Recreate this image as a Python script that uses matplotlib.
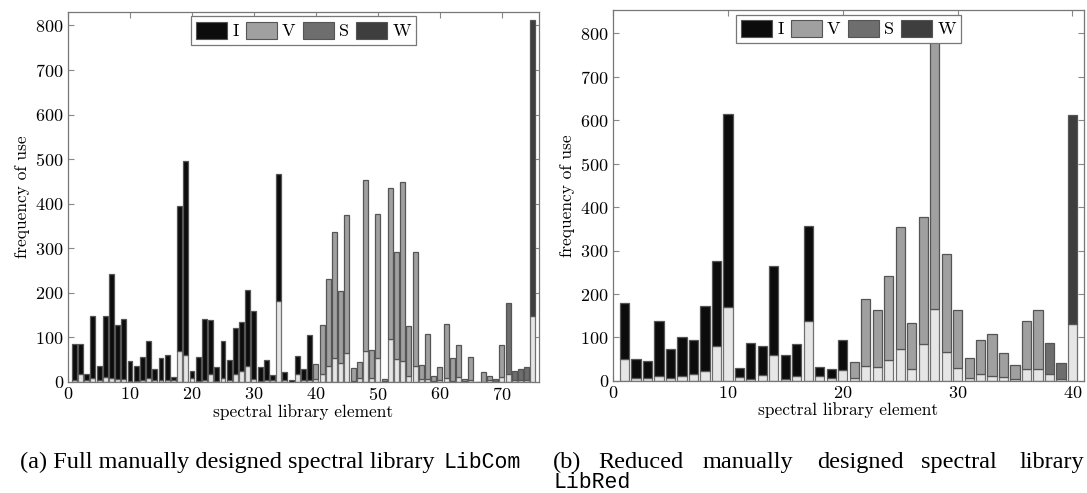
import numpy as np
import matplotlib
matplotlib.use('Agg')
import matplotlib.pyplot as plt
from matplotlib.patches import Patch

plt.rcParams['font.family'] = 'cmr10'
plt.rcParams['axes.formatter.use_mathtext'] = True

# LibCom (75 elementos): altura total, parte clara inferior, categoria
com_total = [85, 86, 17, 147, 36, 149, 242, 127, 142, 46, 35, 55, 93, 29, 53, 61, 12, 395, 495, 25,
             55, 142, 138, 33, 92, 50, 120, 134, 206, 159, 34, 50, 16, 466, 23, 4, 58, 28, 106, 41,
             127, 232, 337, 205, 375, 32, 45, 454, 72, 377, 7, 435, 292, 448, 125, 292, 37, 108, 13, 34,
             129, 54, 84, 7, 57, 1, 22, 13, 7, 84, 178, 25, 30, 33, 811]
com_low = [5, 17, 4, 9, 4, 11, 9, 7, 7, 2, 2, 4, 10, 4, 4, 4, 4, 70, 61, 9,
           3, 4, 19, 2, 9, 5, 17, 25, 36, 6, 2, 4, 4, 182, 5, 1, 19, 4, 5, 7,
           17, 36, 54, 43, 64, 2, 9, 70, 8, 54, 2, 97, 52, 47, 13, 36, 6, 7, 2, 5,
           9, 3, 12, 2, 5, 0, 1, 4, 1, 12, 19, 4, 5, 4, 148]
com_cat = ['I'] * 39 + ['V'] * 29 + ['S'] + ['V'] + ['S'] * 4 + ['W']

# LibRed (40 elementos)
red_total = [179, 51, 45, 138, 74, 100, 95, 173, 276, 615, 29, 87, 80, 265, 59, 85, 356, 33, 28, 94,
             43, 188, 163, 241, 353, 133, 377, 800, 292, 164, 52, 94, 107, 64, 36, 139, 163, 87, 42, 612]
red_low = [50, 6, 6, 12, 6, 11, 16, 22, 80, 169, 10, 4, 13, 60, 4, 12, 137, 12, 8, 25,
           8, 35, 32, 49, 74, 28, 84, 165, 66, 29, 8, 15, 12, 10, 5, 28, 28, 17, 5, 130]
red_cat = ['I'] * 20 + ['V'] * 17 + ['S'] * 2 + ['W']

colores = {'I': '#0c0c0c', 'V': '#a0a0a0', 'S': '#6e6e6e', 'W': '#3e3e3e'}
claro = '#e6e6e6'

fig = plt.figure(figsize=(10.87, 4.93), dpi=100)
ax1 = fig.add_axes([0.0626, 0.2252, 0.4333, 0.7505])
ax2 = fig.add_axes([0.564, 0.2272, 0.4332, 0.7525])


def dibujar(ax, total, low, cat, xmax, ymax, xticks):
    x = np.arange(1, len(total) + 1)
    total = np.array(total)
    low = np.array(low)
    ax.bar(x, low, width=0.8, color=claro, edgecolor='#707070', linewidth=0.9, zorder=2)
    ax.bar(x, total - low, bottom=low, width=0.8, color=[colores[c] for c in cat],
           edgecolor='#555555', linewidth=0.9, zorder=2)
    ax.set_xlim(0, xmax)
    ax.set_ylim(0, ymax)
    ax.set_xticks(xticks)
    ax.set_yticks(range(0, 900, 100))
    ax.tick_params(direction='in', top=True, right=True, labelsize=13, length=4,
                   color='#888888', pad=3)
    for s in ax.spines.values():
        s.set_color('#777777')
        s.set_linewidth(0.9)
    ax.set_xlabel('spectral library element', fontsize=12.5, labelpad=1)
    ax.set_ylabel('frequency of use', fontsize=12.5, labelpad=4)
    handles = [Patch(facecolor=colores[k], edgecolor='#555555', linewidth=0.8) for k in 'IVSW']
    leg = ax.legend(handles, ['I', 'V', 'S', 'W'], loc='upper center', ncol=4, fontsize=13,
                    handlelength=1.7, handleheight=1.05, handletextpad=0.3, columnspacing=0.4,
                    borderpad=0.3, borderaxespad=0.25, fancybox=False, framealpha=1,
                    edgecolor='#777777')
    leg.get_frame().set_linewidth(0.9)
    leg.set_zorder(5)


dibujar(ax1, com_total, com_low, com_cat, 76, 830, range(0, 80, 10))
dibujar(ax2, red_total, red_low, red_cat, 41, 853, range(0, 50, 10))

cap = dict(fontsize=17.5, family='Liberation Serif', va='baseline')
mono = dict(fontsize=15.5, family='Liberation Mono', va='baseline')
fig.text(20 / 1087, 1 - 468 / 493, '(a) Full manually designed spectral library', **cap)
fig.text(443 / 1087, 1 - 468 / 493, 'LibCom', **mono)
palabras = ['(b)', 'Reduced', 'manually', 'designed', 'spectral', 'library']
pos_x = [553, 598, 703, 817, 921, 1084]
for p, xp in zip(palabras, pos_x):
    fig.text(xp / 1087, 1 - 468 / 493, p, ha='right' if p == 'library' else 'left', **cap)
fig.text(553 / 1087, 1 - 488 / 493, 'LibRed', **mono)

fig.savefig('out.png', dpi=100)
